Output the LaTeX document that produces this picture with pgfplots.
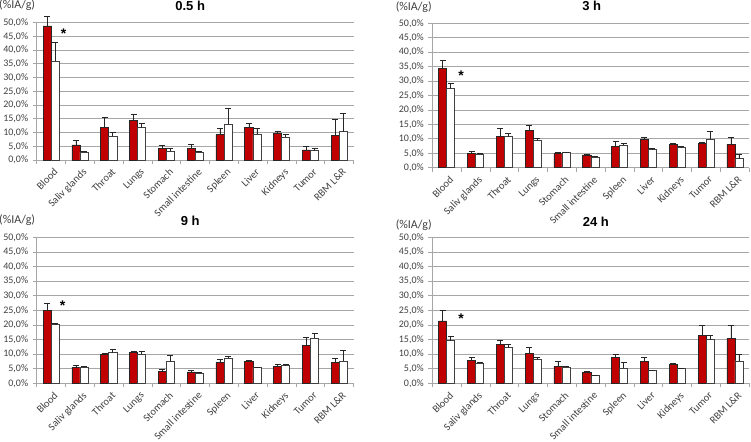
\documentclass[border=0pt]{standalone}
\usepackage{pgfplots}
\pgfplotsset{compat=1.18}
\usepackage{pgfplotstable}
\usepackage{fontspec}
\setmainfont{Carlito}
\newfontfamily\titlefont{Liberation Sans}
\definecolor{barred}{HTML}{C00000}
\definecolor{gridgray}{HTML}{A6A6A6}
\definecolor{txt}{HTML}{404040}

% columns: x, red value, red error, white value, white error
\pgfplotstableread{
x r re w we
0 48.8 3.4 36.0 6.8
1 5.5 1.7 2.8 0.4
2 12.0 3.4 8.7 1.3
3 14.3 2.5 11.8 1.4
4 4.2 1.0 3.3 1.0
5 4.2 1.6 2.8 0.4
6 9.2 2.3 13.0 6.0
7 12.0 1.4 9.3 2.2
8 9.9 0.7 8.4 1.1
9 3.7 1.3 3.4 0.8
10 9.0 5.8 10.3 6.7
}\pA
\pgfplotstableread{
x r re w we
0 34.5 2.7 27.5 1.7
1 5.0 0.8 4.8 0.3
2 10.9 2.6 10.8 1.0
3 13.0 1.8 9.6 0.7
4 5.0 0.5 5.2 0.2
5 4.4 0.2 3.7 0.2
6 7.5 1.5 7.7 0.7
7 9.9 0.6 6.3 0.5
8 8.2 0.4 6.9 0.6
9 8.3 0.4 10.0 2.7
10 8.2 2.3 3.1 1.6
}\pB
\pgfplotstableread{
x r re w we
0 25.1 2.2 20.3 0.1
1 5.5 0.5 5.5 0.4
2 10.0 0.4 10.5 1.1
3 10.5 0.5 9.9 0.9
4 4.0 0.7 7.4 2.1
5 3.9 0.4 3.4 0.4
6 7.2 0.9 8.7 0.4
7 7.4 0.5 5.4 0.1
8 5.8 0.7 6.0 0.5
9 13.0 2.6 15.5 1.7
10 7.2 1.2 7.7 3.6
}\pC
\pgfplotstableread{
x r re w we
0 21.4 3.5 14.6 1.6
1 7.9 1.1 6.8 0.5
2 13.3 1.5 12.2 1.0
3 10.3 1.9 8.2 0.7
4 5.8 1.6 5.5 0.3
5 3.7 0.5 2.6 0.1
6 8.9 1.0 5.2 1.9
7 7.4 1.6 4.4 0.1
8 6.5 0.5 5.1 0.1
9 16.4 3.4 15.0 1.6
10 15.4 4.4 7.7 2.1
}\pD

\pgfplotsset{
  panel/.style={
    scale only axis, width=317pt, anchor=south west, clip=false,
    ymin=0, ymax=50, xmin=-0.5, xmax=10.5,
    axis x line*=bottom, axis y line*=left,
    axis line style={gridgray, line width=0.8pt},
    ytick={0,5,...,50},
    yticklabel={\pgfmathprintnumber[fixed,fixed zerofill,precision=1,use comma,assume math mode=true]{\tick}\%},
    yticklabel style={font=\fontsize{10}{12}\selectfont, text=txt, xshift=-1pt},
    ymajorgrids, major grid style={gridgray, line width=0.8pt},
    xtick={0,...,10},
    xticklabels={Blood,Saliv glands,Throat,Lungs,Stomach,Small intestine,Spleen,Liver,Kidneys,Tumor,RBM L\&R},
    xticklabel style={rotate=45, anchor=north east, font=\fontsize{10.5}{12}\selectfont, text=txt, inner sep=1pt, yshift=-3pt},
    major x tick style={draw=none},
    minor xtick={-0.5,0.5,...,10.5},
    minor x tick style={gridgray, line width=0.8pt},
    minor tick length=4pt,
    major tick length=4pt,
    ytick style={gridgray, line width=0.8pt},
    tick align=outside,
    title style={font=\titlefont\bfseries\fontsize{13}{15}\selectfont, at={(0.5,1)}, anchor=center, yshift=11pt},
    ybar, bar width=0.28,
    error bars/y dir=plus, error bars/y explicit,
    error bars/error bar style={black!85, line width=0.6pt},
    error bars/error mark=|,
    error bars/error mark options={black!85, line width=0.6pt, mark size=3pt},
  },
  redbar/.style={fill=barred, draw=black!85, line width=0.6pt, bar shift=-0.14},
  whitebar/.style={fill=white, draw=black!75, line width=0.6pt, bar shift=0.14},
}
\tikzset{sigstar/.style={font=\titlefont\bfseries\fontsize{14}{15}\selectfont, inner sep=0pt}}

\begin{document}
\begin{tikzpicture}
\useasboundingbox (0,0) rectangle (751pt,-441pt);

\begin{axis}[panel, at={(36.7pt,-160pt)}, height=137.3pt, title={0.5 h}, title style={xshift=-5pt}]
\addplot[redbar] table[x=x,y=r,y error=re] {\pA};
\addplot[whitebar] table[x=x,y=w,y error=we] {\pA};
\node[sigstar] at (axis cs:0.43,46.0) {*};
\end{axis}

\begin{axis}[panel, at={(432.3pt,-167.7pt)}, height=144.4pt, title={3 h}, title style={xshift=1pt}]
\addplot[redbar] table[x=x,y=r,y error=re] {\pB};
\addplot[whitebar] table[x=x,y=w,y error=we] {\pB};
\node[sigstar] at (axis cs:0.5,31.7) {*};
\end{axis}

\begin{axis}[panel, at={(36.7pt,-383.3pt)}, height=146pt, title={9 h}, title style={xshift=-5pt, yshift=-1pt}]
\addplot[redbar] table[x=x,y=r,y error=re] {\pC};
\addplot[whitebar] table[x=x,y=w,y error=we] {\pC};
\node[sigstar] at (axis cs:0.4,26.7) {*};
\end{axis}

\begin{axis}[panel, at={(432.3pt,-383.3pt)}, height=146pt, title={24 h}, title style={xshift=5pt, yshift=-1pt}]
\addplot[redbar] table[x=x,y=r,y error=re] {\pD};
\addplot[whitebar] table[x=x,y=w,y error=we] {\pD};
\node[sigstar] at (axis cs:0.5,22.1) {*};
\end{axis}

\node[font=\fontsize{12}{14}\selectfont, text=txt, anchor=west, inner sep=0pt] at (-1pt,-5.5pt) {(\%IA/g)};
\node[font=\fontsize{12}{14}\selectfont, text=txt, inner sep=0pt] at (413.7pt,-7.5pt) {(\%IA/g)};
\node[font=\fontsize{12}{14}\selectfont, text=txt, anchor=west, inner sep=0pt] at (-1pt,-220pt) {(\%IA/g)};
\node[font=\fontsize{12}{14}\selectfont, text=txt, inner sep=0pt] at (413.7pt,-225pt) {(\%IA/g)};
\end{tikzpicture}
\end{document}
